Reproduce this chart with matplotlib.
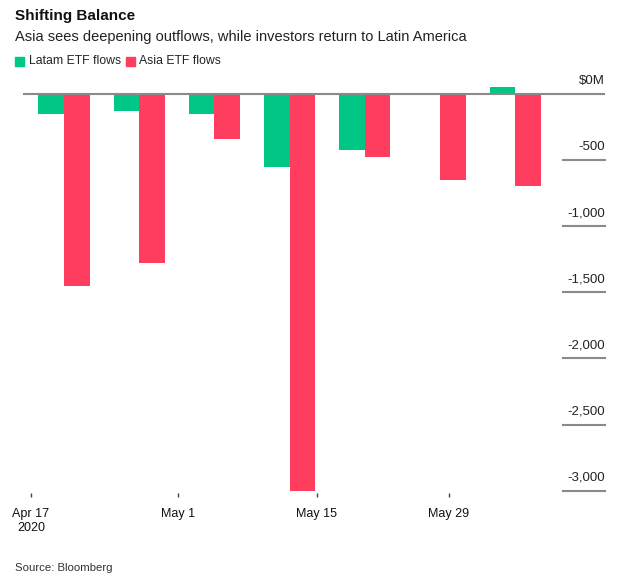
import numpy as np
import matplotlib.pyplot as plt
from matplotlib.patches import Rectangle

plt.rcParams["font.family"] = ["Liberation Sans", "DejaVu Sans"]

# Weekly ETF flows, $M
weeks = ["Apr 17", "Apr 24", "May 1", "May 8", "May 15", "May 22", "May 29"]
latam = [-152, -129, -152, -553, -424, 5, 55]
asia = [-1455, -1280, -341, -3000, -477, -652, -697]

tick_pos = [-0.44, 1.52, 3.36, 5.12]
tick_labels = ["Apr 17\n2020", "May 1", "May 15", "May 29"]
y_ticks = [0, -500, -1000, -1500, -2000, -2500, -3000]
y_labels = ["$0M", "-500", "-1,000", "-1,500", "-2,000", "-2,500", "-3,000"]

green = "#00C785"
red = "#FF3D5E"
grey = "#8a8a8a"

fig = plt.figure(figsize=(6.3, 5.84), dpi=100)
W, H = 630, 584
# axes: x from 23 to 605 px, y from 70 to 493 px
ax = fig.add_axes([23 / W, 1 - 493 / H, (605 - 23) / W, (493 - 70) / H])

x = np.arange(len(weeks))
bw = 0.34
ax.bar(x - bw / 2, latam, width=bw, color=green, zorder=2)
ax.bar(x + bw / 2, asia, width=bw, color=red, zorder=2)

# px per unit ~0.1322 ; zero at y=94px
ppu = 0.1322
ax.set_ylim(-(493 - 94) / ppu, (94 - 70) / ppu)
# x: group center i at 64 + 75.2*i px
ax.set_xlim((23 - 64) / 75.2, (605 - 64) / 75.2)

ax.axhline(0, color=grey, lw=1.5, zorder=3)
for v, lab in zip(y_ticks, y_labels):
    if v != 0:
        ax.axhline(v, xmin=(563 - 23) / 582, xmax=1.0, color=grey, lw=1.5, clip_on=False)
    ax.annotate(lab, xy=(1.0, v), xycoords=("axes fraction", "data"),
                xytext=(0, 5), textcoords="offset points",
                ha="right", va="bottom", fontsize=9.5, color="#222222")

for s in ax.spines.values():
    s.set_visible(False)
ax.set_yticks([])
ax.set_xticks(tick_pos)
ax.set_xticklabels(tick_labels, fontsize=9, color="#111111", linespacing=1.2)
ax.tick_params(axis="x", length=3, width=1, color="#444444", pad=8)

# header
fig.text(15 / W, 1 - 16 / H, "Shifting Balance", fontsize=11, fontweight="bold",
         va="center", ha="left", color="#111111")
fig.text(15 / W, 1 - 37 / H,
         "Asia sees deepening outflows, while investors return to Latin America",
         fontsize=10.5, va="center", ha="left", color="#222222")

# legend
fig.patches.append(Rectangle((15 / W, 1 - 66 / H), 9 / W, 9 / H,
                             transform=fig.transFigure, color=green))
fig.text(29 / W, 1 - 61 / H, "Latam ETF flows", fontsize=8.8, va="center", color="#222222")
fig.patches.append(Rectangle((126 / W, 1 - 66 / H), 9 / W, 9 / H,
                             transform=fig.transFigure, color=red))
fig.text(139 / W, 1 - 61 / H, "Asia ETF flows", fontsize=8.8, va="center", color="#222222")

fig.text(15 / W, 1 - 568 / H, "Source: Bloomberg", fontsize=8.2, va="center", color="#333333")

plt.savefig("out.png", dpi=100)
